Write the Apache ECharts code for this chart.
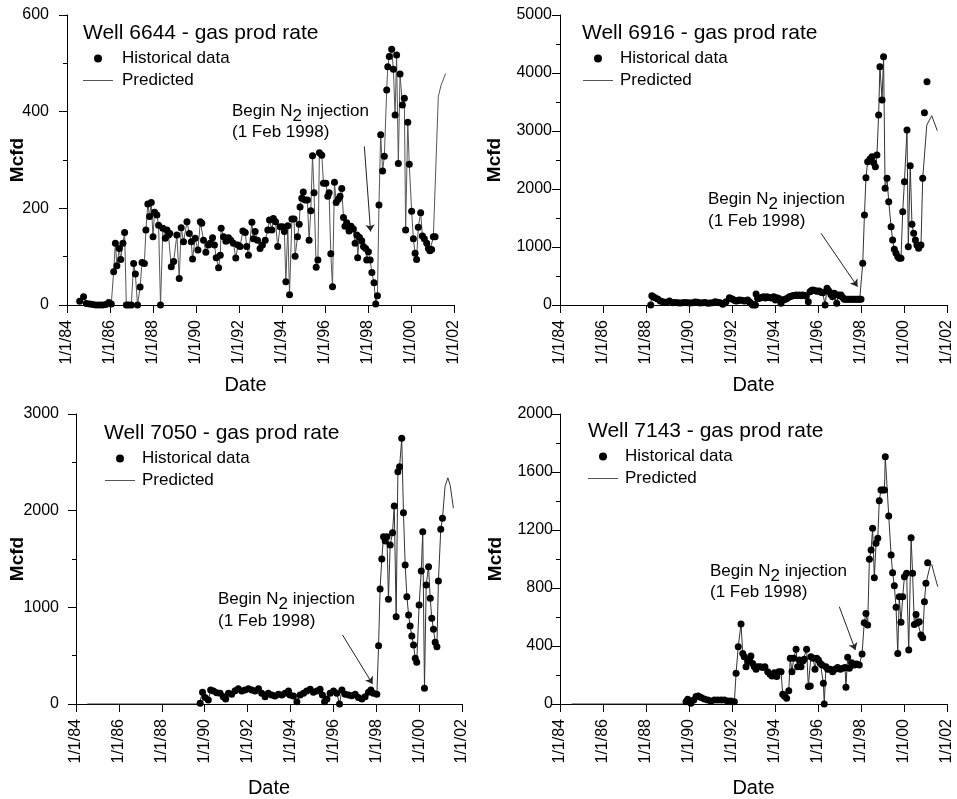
<!DOCTYPE html>
<html>
<head>
<meta charset="utf-8">
<script src="https://cdn.jsdelivr.net/npm/echarts@6/dist/echarts.min.js"></script>
<style>html,body{margin:0;padding:0;background:#fff;}#c{width:957px;height:799px;}</style>
</head>
<body>
<div id="c"></div>
<script>
// ---------- tick labels ----------
const xTickYears = [1984, 1986, 1988, 1990, 1992, 1994, 1996, 1998, 2000, 2002];
const xTickLabels = ['1/1/84', '1/1/86', '1/1/88', '1/1/90', '1/1/92', '1/1/94', '1/1/96', '1/1/98', '1/1/00', '1/1/02'];
const wellNames = ['6644', '6916', '7050', '7143'];
const yMax = [600, 5000, 3000, 2000];
const yStep = [200, 1000, 1000, 400];

// ---------- Well 6644 ----------
const hist6644 = [[1984.59,8],[1984.77,17],[1984.9,3],[1985.05,2],[1985.2,1],[1985.35,0],[1985.5,0],[1985.65,0],[1985.8,1],[1985.94,5],[1986.06,2],[1986.17,69],[1986.25,128],[1986.32,81],[1986.43,117],[1986.5,94],[1986.6,128],[1986.68,150],[1986.76,0],[1986.87,0],[1986.99,0],[1987.1,86],[1987.18,64],[1987.28,0],[1987.4,37],[1987.49,88],[1987.6,86],[1987.67,155],[1987.76,209],[1987.84,183],[1987.92,212],[1988.0,141],[1988.07,192],[1988.18,186],[1988.26,165],[1988.35,0],[1988.46,159],[1988.57,138],[1988.65,155],[1988.72,145],[1988.78,148],[1988.85,79],[1988.96,90],[1989.11,145],[1989.22,55],[1989.31,160],[1989.42,131],[1989.58,172],[1989.69,148],[1989.78,131],[1989.84,95],[1989.96,138],[1990.09,114],[1990.2,172],[1990.27,169],[1990.35,134],[1990.46,109],[1990.58,124],[1990.66,128],[1990.77,139],[1990.86,124],[1990.94,98],[1991.05,77],[1991.13,103],[1991.17,159],[1991.28,141],[1991.39,132],[1991.51,139],[1991.62,134],[1991.74,128],[1991.85,97],[1991.95,124],[1992.05,121],[1992.18,153],[1992.29,150],[1992.36,121],[1992.44,103],[1992.6,171],[1992.67,137],[1992.75,152],[1992.86,134],[1992.98,117],[1993.09,124],[1993.22,134],[1993.34,155],[1993.42,176],[1993.53,155],[1993.6,179],[1993.7,172],[1993.8,121],[1993.91,162],[1994.02,162],[1994.11,152],[1994.18,48],[1994.27,164],[1994.35,21],[1994.46,178],[1994.56,178],[1994.61,101],[1994.72,141],[1994.8,167],[1994.84,203],[1994.92,221],[1994.99,234],[1995.08,217],[1995.18,217],[1995.26,134],[1995.34,195],[1995.42,309],[1995.49,232],[1995.59,78],[1995.67,93],[1995.74,315],[1995.85,310],[1995.93,252],[1996.04,252],[1996.13,225],[1996.19,232],[1996.27,106],[1996.35,38],[1996.44,254],[1996.52,212],[1996.62,219],[1996.7,225],[1996.78,241],[1996.86,181],[1996.93,163],[1997.01,170],[1997.12,153],[1997.21,163],[1997.32,157],[1997.4,128],[1997.48,145],[1997.52,98],[1997.6,140],[1997.71,133],[1997.79,121],[1997.89,117],[1997.94,93],[1998.02,110],[1998.1,93],[1998.18,67],[1998.28,46],[1998.36,2],[1998.44,19],[1998.51,207],[1998.59,352],[1998.68,277],[1998.76,308],[1998.87,445],[1998.92,493],[1998.99,514],[1999.1,529],[1999.18,488],[1999.26,393],[1999.33,517],[1999.41,293],[1999.49,478],[1999.6,414],[1999.69,428],[1999.75,155],[1999.85,378],[1999.92,291],[2000.03,194],[2000.11,137],[2000.19,107],[2000.26,94],[2000.34,161],[2000.45,191],[2000.53,143],[2000.62,137],[2000.73,128],[2000.81,117],[2000.88,112],[2000.96,115],[2001.04,141],[2001.12,141]];
const pred6644Tail = [[2001.27,431],[2001.4,455],[2001.61,479]];

// ---------- Well 6916 ----------
const hist6916 = [[1988.22,0],[1988.27,160],[1988.33,144],[1988.42,126],[1988.54,103],[1988.67,69],[1988.78,57],[1988.93,46],[1989.09,69],[1989.24,40],[1989.35,45],[1989.47,40],[1989.58,35],[1989.7,40],[1989.82,45],[1989.94,40],[1990.05,35],[1990.17,40],[1990.28,50],[1990.4,46],[1990.52,35],[1990.64,40],[1990.75,45],[1990.87,29],[1990.98,35],[1991.1,40],[1991.22,55],[1991.33,46],[1991.45,40],[1991.57,11],[1991.72,57],[1991.88,126],[1991.95,110],[1992.03,98],[1992.11,80],[1992.19,69],[1992.27,75],[1992.34,86],[1992.45,80],[1992.57,69],[1992.65,75],[1992.73,86],[1992.82,50],[1992.88,29],[1992.96,0],[1993.04,5],[1993.09,0],[1993.12,190],[1993.19,115],[1993.25,110],[1993.32,126],[1993.4,130],[1993.47,144],[1993.55,120],[1993.63,144],[1993.7,130],[1993.78,126],[1993.86,120],[1993.94,144],[1994.02,86],[1994.09,126],[1994.18,110],[1994.28,29],[1994.36,86],[1994.44,95],[1994.51,103],[1994.59,120],[1994.67,144],[1994.75,150],[1994.82,160],[1994.9,165],[1994.98,172],[1995.06,165],[1995.13,172],[1995.21,160],[1995.29,172],[1995.37,165],[1995.44,155],[1995.55,57],[1995.63,230],[1995.7,250],[1995.75,259],[1995.83,250],[1995.91,241],[1995.98,235],[1996.06,241],[1996.14,220],[1996.22,213],[1996.33,0],[1996.42,287],[1996.48,250],[1996.53,230],[1996.6,180],[1996.68,144],[1996.76,201],[1996.87,29],[1996.95,172],[1997.01,160],[1997.07,172],[1997.15,130],[1997.22,98],[1997.3,100],[1997.38,100],[1997.46,100],[1997.54,100],[1997.62,100],[1997.7,100],[1997.78,100],[1997.86,100],[1997.94,100],[1998.0,100],[1998.08,718],[1998.16,1552],[1998.23,2195],[1998.31,2471],[1998.42,2517],[1998.51,2557],[1998.59,2454],[1998.67,2385],[1998.74,2586],[1998.82,3276],[1998.88,4109],[1998.98,3534],[1999.05,4281],[1999.12,2011],[1999.21,2184],[1999.29,1782],[1999.4,1351],[1999.47,1121],[1999.55,960],[1999.63,891],[1999.71,833],[1999.78,805],[1999.86,805],[1999.94,1609],[2000.02,2126],[2000.14,3017],[2000.2,1006],[2000.29,2402],[2000.37,1391],[2000.45,1236],[2000.53,1121],[2000.6,1034],[2000.68,977],[2000.79,1034],[2000.87,2184],[2000.95,3316],[2001.07,3850]];
const pred6916Tail = [[2001.06,3103],[2001.29,3264],[2001.55,3005]];

// ---------- Well 7050 ----------
const hist7050 = [[1989.79,7],[1989.9,121],[1990.02,66],[1990.17,41],[1990.28,145],[1990.41,134],[1990.56,117],[1990.72,110],[1990.87,76],[1990.98,52],[1991.11,110],[1991.26,100],[1991.42,138],[1991.57,159],[1991.73,134],[1991.88,145],[1992.04,159],[1992.2,145],[1992.35,134],[1992.51,159],[1992.66,110],[1992.82,76],[1992.97,110],[1993.13,93],[1993.28,83],[1993.44,100],[1993.6,93],[1993.75,110],[1993.91,134],[1993.98,93],[1994.14,83],[1994.3,24],[1994.45,93],[1994.61,110],[1994.76,134],[1994.92,152],[1995.07,121],[1995.23,134],[1995.38,152],[1995.49,93],[1995.59,24],[1995.7,52],[1995.85,110],[1996.01,134],[1996.16,110],[1996.29,0],[1996.4,145],[1996.55,100],[1996.71,93],[1996.86,86],[1997.02,100],[1997.17,66],[1997.33,52],[1997.48,76],[1997.64,121],[1997.75,145],[1997.87,110],[1998.03,100],[1998.11,603],[1998.18,1190],[1998.26,1500],[1998.34,1731],[1998.42,1686],[1998.5,1731],[1998.57,1083],[1998.65,1645],[1998.76,1772],[1998.84,2048],[1998.93,903],[1999.01,2403],[1999.09,2455],[1999.19,2748],[1999.27,1979],[1999.35,1438],[1999.43,1110],[1999.51,921],[1999.58,807],[1999.66,703],[1999.74,610],[1999.82,472],[1999.89,431],[2000.0,1024],[2000.1,1376],[2000.17,1783],[2000.25,162],[2000.33,1231],[2000.44,1421],[2000.52,1093],[2000.59,886],[2000.67,772],[2000.75,638],[2000.83,593],[2000.9,1272],[2001.01,1807],[2001.09,1921]];
const pred7050Head = [[1984.53,0],[1989.75,0]];
const pred7050Tail = [[2001.21,2250],[2001.34,2340],[2001.45,2260],[2001.6,2025]];

// ---------- Well 7143 ----------
const hist7143 = [[1989.86,16],[1989.94,32],[1990.02,21],[1990.09,5],[1990.22,28],[1990.33,51],[1990.43,55],[1990.56,44],[1990.71,34],[1990.87,28],[1991.02,21],[1991.18,28],[1991.33,28],[1991.49,28],[1991.64,28],[1991.8,21],[1991.95,21],[1992.11,16],[1992.19,212],[1992.29,395],[1992.42,552],[1992.5,349],[1992.57,326],[1992.65,257],[1992.73,292],[1992.81,308],[1992.88,331],[1992.96,280],[1993.04,257],[1993.12,239],[1993.19,257],[1993.32,257],[1993.43,251],[1993.53,257],[1993.66,223],[1993.77,205],[1993.86,193],[1993.97,216],[1994.08,189],[1994.17,223],[1994.28,223],[1994.36,67],[1994.43,55],[1994.54,39],[1994.64,92],[1994.71,315],[1994.79,223],[1994.87,315],[1994.98,377],[1995.05,257],[1995.13,303],[1995.21,257],[1995.29,297],[1995.36,308],[1995.47,377],[1995.55,120],[1995.64,124],[1995.67,326],[1995.78,315],[1995.86,239],[1995.94,315],[1996.02,303],[1996.11,280],[1996.19,269],[1996.25,143],[1996.29,0],[1996.37,257],[1996.45,239],[1996.57,239],[1996.68,223],[1996.79,239],[1996.91,251],[1997.04,239],[1997.15,246],[1997.26,251],[1997.3,115],[1997.38,322],[1997.46,246],[1997.57,285],[1997.69,269],[1997.8,276],[1997.92,269],[1998.05,345],[1998.15,561],[1998.23,625],[1998.31,545],[1998.39,998],[1998.47,1062],[1998.54,1212],[1998.62,871],[1998.7,1108],[1998.78,1143],[1998.85,1402],[1998.93,1476],[1999.01,1476],[1999.09,1476],[1999.13,1706],[1999.29,1297],[1999.4,1028],[1999.47,906],[1999.55,816],[1999.63,667],[1999.71,349],[1999.78,740],[1999.86,563],[1999.94,740],[2000.02,878],[2000.12,901],[2000.22,372],[2000.33,1147],[2000.4,901],[2000.48,549],[2000.56,618],[2000.64,561],[2000.71,568],[2000.79,476],[2000.87,457],[2000.95,706],[2001.02,832],[2001.1,975]];
const pred7143Head = [[1984.54,0],[1989.8,0]];
const pred7143Tail = [[2001.2,945],[2001.29,962],[2001.4,900],[2001.57,809]];

// ---------- N2 injection arrows (data coordinates) ----------
const arrowFrom = [[1997.83,328],[1996.14,1236],[1996.43,714],[1996.99,671]];
const arrowTo   = [[1998.12,152],[1997.84,316],[1997.83,207],[1997.74,372]];

// predicted curves: the line runs through the historical points, then extends beyond them
const histAll = [hist6644, hist6916, hist7050, hist7143];
const predAll = [
  hist6644.concat(pred6644Tail),
  hist6916.slice(0, hist6916.length - 2).concat(pred6916Tail),
  pred7050Head.concat(hist7050, pred7050Tail),
  pred7143Head.concat(hist7143.slice(0, hist7143.length - 1), pred7143Tail)
];

// ---------- layout ----------
const FONT = 'Liberation Sans, Arial, Helvetica, sans-serif';
const grids = [
  {left: 67, top: 15, width: 387, height: 290},
  {left: 560, top: 15, width: 387, height: 290},
  {left: 76, top: 414, width: 386, height: 290},
  {left: 560, top: 414, width: 387, height: 290}
];
const yLabelMargin = [18, 8, 17, 7];
const yNameGap = [40, 56, 49, 55];
const xNameGap = [70, 70, 74, 74];
const xNamePad = [[0, 30, 0, 0], [0, 0, 0, 0], [0, 0, 0, 0], [0, 0, 0, 0]];
const titlePos = [[83, 23], [582, 23], [104, 423], [588, 421]];
const legendPos = [[83, 50], [583, 50], [105, 450], [588, 448]];
const legendTextPad = [4, 2, 2, 2];
const notePos = [[232, 112, 133], [708, 200, 222], [218, 600, 622], [710, 572, 593]];
const predColor = ['#555', '#333', '#333', '#333'];

const xAxes = grids.map((g, i) => ({
  type: 'value', gridIndex: i, min: 1984, max: 2002, interval: 2,
  name: 'Date', nameLocation: 'middle', nameGap: xNameGap[i], nameMoveOverlap: false,
  nameTextStyle: {fontSize: 20, color: '#000', fontFamily: FONT, padding: xNamePad[i]},
  axisLine: {show: true, onZero: false, lineStyle: {color: '#000', width: 1}},
  axisTick: {show: true, length: 8, lineStyle: {color: '#000', width: 1}},
  splitLine: {show: false},
  axisLabel: {
    rotate: 90, fontSize: 16, color: '#000', fontFamily: FONT, margin: 15,
    showMinLabel: true, showMaxLabel: true,
    formatter: v => { const k = xTickYears.indexOf(Math.round(v)); return k >= 0 ? xTickLabels[k] : ''; }
  }
}));

const yAxes = grids.map((g, i) => ({
  type: 'value', gridIndex: i, min: 0, max: yMax[i], interval: yStep[i],
  name: 'Mcfd', nameLocation: 'middle', nameGap: yNameGap[i], nameRotate: 90, nameMoveOverlap: false,
  nameTextStyle: {fontSize: 19, fontWeight: 'bold', color: '#000', fontFamily: FONT},
  axisLine: {show: true, lineStyle: {color: '#000', width: 1}},
  axisTick: {show: true, length: 8, lineStyle: {color: '#000', width: 1}},
  minorTick: {show: true, splitNumber: 2, length: 4, lineStyle: {color: '#000', width: 1}},
  splitLine: {show: false}, minorSplitLine: {show: false},
  axisLabel: {fontSize: 16, color: '#000', fontFamily: FONT, margin: yLabelMargin[i], formatter: v => String(v)}
}));

const series = [];
histAll.forEach((h, i) => {
  series.push({
    type: 'line', name: 'Predicted', xAxisIndex: i, yAxisIndex: i,
    data: predAll[i], symbol: 'none', showSymbol: false, z: 2,
    lineStyle: {color: predColor[i], width: 1}, itemStyle: {color: predColor[i]}
  });
  series.push({
    type: 'scatter', name: 'Historical data', xAxisIndex: i, yAxisIndex: i,
    data: h, symbol: 'circle', symbolSize: 7, z: 3,
    itemStyle: {color: '#000', opacity: 1},
    markLine: {
      silent: true, animation: false, symbol: ['none', 'arrow'], symbolSize: 7,
      itemStyle: {color: '#222'},
      lineStyle: {color: '#222', width: 1, type: 'solid', opacity: 1}, label: {show: false},
      emphasis: {disabled: true},
      data: [[{coord: arrowFrom[i], symbol: 'none'}, {coord: arrowTo[i], symbol: 'arrow', symbolSize: 7}]]
    }
  });
});

const titles = wellNames.map((w, i) => ({
  text: 'Well ' + w + ' - gas prod rate', left: titlePos[i][0], top: titlePos[i][1], padding: 0,
  textStyle: {fontSize: 21, fontWeight: 'normal', color: '#000', fontFamily: FONT}
}));

const legends = wellNames.map((w, i) => ({
  left: legendPos[i][0], top: legendPos[i][1], orient: 'vertical', padding: 0,
  itemWidth: 30, itemHeight: 8, itemGap: 5, selectedMode: false, symbolKeepAspect: true,
  data: [
    {name: 'Historical data', icon: 'circle'},
    {name: 'Predicted', icon: 'path://M0,0L30,0L30,1L0,1Z'}
  ],
  textStyle: {fontSize: 17, color: '#000', fontFamily: FONT, padding: [0, 0, 0, legendTextPad[i]]}
}));

const graphics = [];
notePos.forEach(p => {
  graphics.push({
    type: 'text', left: p[0], top: p[1] - 9, silent: true,
    style: {
      text: '{a|Begin N}{s|2}{a| injection}',
      rich: {
        a: {fontSize: 17, fontFamily: FONT, fill: '#000', lineHeight: 18, verticalAlign: 'top'},
        s: {fontSize: 17, fontFamily: FONT, fill: '#000', lineHeight: 22, verticalAlign: 'bottom'}
      }
    }
  });
  graphics.push({
    type: 'text', left: p[0], top: p[2] - 9, silent: true,
    style: {text: '(1 Feb 1998)', fontSize: 17, fontFamily: FONT, fill: '#000'}
  });
});

const chart = echarts.init(document.getElementById('c'), null, {renderer: 'canvas'});
chart.setOption({
  backgroundColor: '#fff',
  animation: false,
  textStyle: {fontFamily: FONT},
  title: titles,
  legend: legends,
  grid: grids,
  xAxis: xAxes,
  yAxis: yAxes,
  series: series,
  graphic: graphics
});
</script>
</body>
</html>
